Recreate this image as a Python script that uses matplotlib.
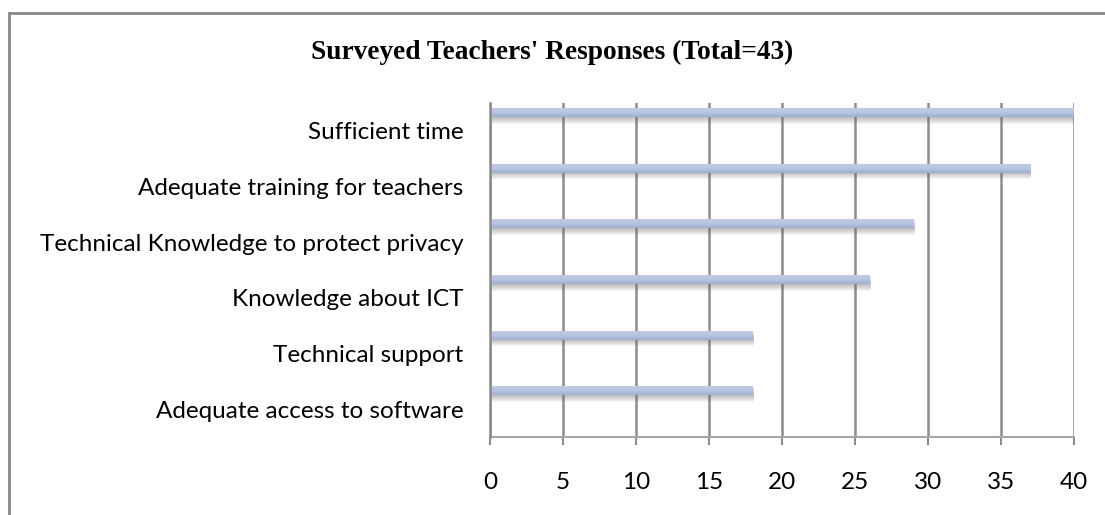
import matplotlib
matplotlib.use("Agg")
import matplotlib.pyplot as plt
from matplotlib.patches import Rectangle
from matplotlib.colors import LinearSegmentedColormap
import numpy as np

# survey answers, top row first
categories = [
    "Sufficient time",
    "Adequate training for teachers",
    "Technical Knowledge to protect privacy",
    "Knowledge about ICT",
    "Technical support",
    "Adequate access to software",
]
responses = [40, 37, 29, 26, 18, 18]
x_ticks = [0, 5, 10, 15, 20, 25, 30, 35, 40]

fig = plt.figure(figsize=(11.05, 5.15), dpi=100, facecolor="white")
ax = fig.add_axes([0.4434, 0.1515, 0.5285, 0.6485])

pos = np.arange(len(categories))
bar_y = pos - 0.33
bar_h = 0.16

# soft drop shadow under each bar
for k in range(1, 8):
    ax.barh(bar_y + k * 0.017, responses, height=bar_h, left=0.08,
            color="#6f6f6f", alpha=0.075, linewidth=0, zorder=2)

bars = ax.barh(bar_y, responses, height=bar_h, color="#b4c2e0",
               linewidth=0, zorder=3)

# vertical light-to-dark fill inside the bars
grad = LinearSegmentedColormap.from_list("barfill", ["#c0cbe5", "#b7c4e2", "#9eaed2"])
shade = np.linspace(0, 1, 64).reshape(-1, 1)
for b in bars:
    x0, y0 = b.get_x(), b.get_y()
    im = ax.imshow(shade, cmap=grad, aspect="auto", zorder=4,
                   extent=(x0, x0 + b.get_width(), y0 + b.get_height(), y0),
                   interpolation="bilinear")
    im.set_clip_path(b)

ax.set_xlim(0, 40)
ax.set_ylim(len(categories) - 0.5, -0.5)
ax.set_xticks(x_ticks)
ax.set_xticklabels([str(t) for t in x_ticks], fontsize=17.5, family="Lato")
ax.set_yticks(pos)
ax.set_yticklabels(categories, fontsize=17.5, family="Lato")
ax.tick_params(axis="y", length=0, pad=19)
ax.tick_params(axis="x", length=6, width=1.5, color="#8c8c8c", pad=19)
ax.xaxis.grid(True, color="#8c8c8c", linewidth=1.8, zorder=1)

for side in ["top", "right"]:
    ax.spines[side].set_visible(False)
ax.spines["left"].set_color("#8c8c8c")
ax.spines["left"].set_linewidth(1.8)
ax.spines["left"].set_zorder(5)
ax.spines["bottom"].set_color("#a6a6a6")
ax.spines["bottom"].set_linewidth(1.5)

fig.text(0.5, 1 - 52 / 515, "Surveyed Teachers' Responses (Total=43)",
         ha="center", va="center", fontsize=19.7, fontweight="bold",
         family="Liberation Serif")

# chart frame
fig.patches.append(Rectangle((9 / 1105, -0.1), 1.2, 1.1 - 13 / 515,
                             transform=fig.transFigure, fill=False,
                             edgecolor="#878787", linewidth=2))

fig.savefig("out.png", dpi=100)
